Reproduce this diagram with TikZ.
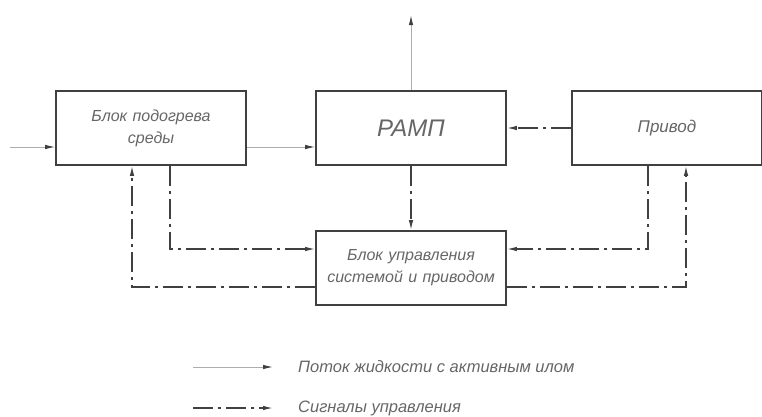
\documentclass[tikz,border=0pt]{standalone}
\usepackage{fontspec}
\setmainfont{Liberation Sans}
\usetikzlibrary{positioning,arrows.meta}
\definecolor{bordgray}{gray}{0.25}
\definecolor{flowgray}{gray}{0.68}
\definecolor{textgray}{gray}{0.4}
\tikzstyle{block} = [rectangle, draw=bordgray, line width=1.6pt, fill=white,
    text width=180pt, inner sep=5pt, text centered, minimum height=74pt,
    text=textgray, font=\fontsize{16}{22}\selectfont\itshape]
\tikzstyle{legend} = [inner sep=0pt, anchor=west, text=textgray,
    font=\fontsize{16.5}{20}\selectfont\itshape]
\tikzstyle{flow} = [draw=flowgray, line width=1pt,
    -{Latex[length=10pt,width=4.5pt,color=bordgray]}]
\tikzstyle{signal} = [draw=bordgray, line width=1.3pt,
    dash pattern=on 20pt off 5pt on 3pt off 5pt, -{Latex[length=10pt,width=4.5pt]}]

\begin{document}
\begin{tikzpicture}[x=1pt, y=1pt, node distance=260pt]
    \useasboundingbox (0,0) rectangle (762,416);
    % Place nodes
    \node [block] (heater) at (151,288) {Блок подогрева\\среды};
    \node [block, right of=heater] (ramp) {\fontsize{24}{28}\selectfont РАМП};
    \node [block, right of=ramp, node distance=256pt] (drive) {\fontsize{17}{22}\selectfont Привод};
    \node [block, below of=ramp, node distance=140pt] (control) {Блок управления\\системой и приводом};

    \coordinate (in) at ([xshift=-45pt,yshift=-19pt]heater.west);
    \coordinate (out) at ([yshift=75pt]ramp.north);

    \node [legend] (legflow) at (298,49) {Поток жидкости с активным илом};
    \node [legend] (legsig) at (298,8) {Сигналы управления};
    \coordinate (flowstart) at (193,49);
    \coordinate (sigstart) at (193,8);

    % Draw edges
    \path [flow] (in) -- (in -| heater.west);
    \path [flow] (heater.east |- in) -- (ramp.west |- in);
    \path [flow] (ramp.north) -- (out);
    \path [signal] (drive.west) -- (ramp.east);
    \path [signal] (ramp.south) -- (control.north);
    \path [signal] ([xshift=19pt]heater.south) |- ([yshift=19pt]control.west);
    \path [signal] ([yshift=-19pt]control.west) -| ([xshift=-19pt]heater.south);
    \path [signal] ([xshift=-19pt]drive.south) |- ([yshift=19pt]control.east);
    \path [signal] ([yshift=-19pt]control.east) -| ([xshift=19pt]drive.south);

    % Legend
    \path [flow] (flowstart) -- ([xshift=-25pt]legflow.west);
    \path [signal] (sigstart) -- ([xshift=-25pt]legsig.west);

\end{tikzpicture}
\end{document}
